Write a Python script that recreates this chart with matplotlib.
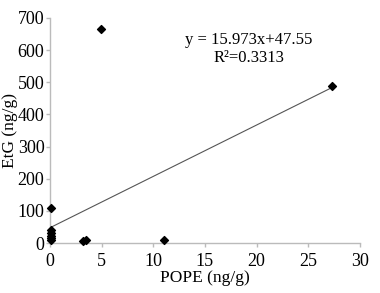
import numpy as np
import matplotlib
matplotlib.use("Agg")
import matplotlib.pyplot as plt

plt.rcParams['font.family'] = ['Liberation Serif', 'DejaVu Serif']

pope = [0.1, 0.1, 0.1, 0.1, 0.1, 0.1, 3.2, 3.5, 4.9, 11.0, 27.3]
etg = [110, 40, 30, 22, 15, 10, 5, 8, 666, 10, 489]
slope = 15.973
intercept = 47.55

fig = plt.figure(figsize=(3.8, 2.93), dpi=100)
ax = fig.add_axes([0.1316, 0.1706, 0.8154, 0.768])

ax.scatter(pope, etg, marker='D', s=16, color='black', zorder=3, clip_on=False)
xl = np.array([0, 27.3])
ax.plot(xl, slope * xl + intercept, color='#555555', lw=0.8)

ax.set_xlim(0, 30)
ax.set_ylim(0, 700)
ax.set_xticks(range(0, 31, 5))
ax.set_yticks(range(0, 701, 100))
for s in ['top', 'right']:
    ax.spines[s].set_visible(False)
for s in ['left', 'bottom']:
    ax.spines[s].set_color('#bbbbbb')
    ax.spines[s].set_linewidth(1.0)
ax.tick_params(colors='#bbbbbb', length=3, width=1, labelcolor='black', labelsize=13)
ax.tick_params(axis='x', pad=4)
ax.tick_params(axis='y', pad=1)

ax.set_xlabel('POPE (ng/g)', fontsize=12.5, labelpad=0)
ax.set_ylabel('EtG (ng/g)', fontsize=12.5, labelpad=0)

ax.text(0.642, 0.902, 'y = 15.973x+47.55', transform=ax.transAxes,
        ha='center', va='center', fontsize=12)
ax.text(0.642, 0.822, 'R²=0.3313', transform=ax.transAxes,
        ha='center', va='center', fontsize=12)

fig.savefig('out.png', dpi=100)
